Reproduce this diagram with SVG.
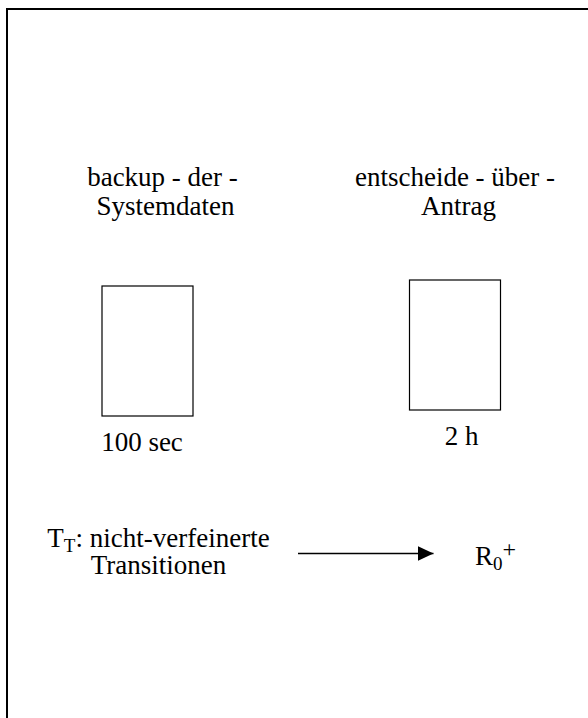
<svg xmlns="http://www.w3.org/2000/svg" width="588" height="718" viewBox="0 0 588 718">
  <defs>
    <style>
      .lbl { font-family: "Liberation Serif", "Times New Roman", serif; font-size: 27px; fill: #000; }
      .sub { font-size: 19px; }
      .sup { font-size: 24px; }
      .frame { fill: none; stroke: #000; stroke-width: 2; }
      .box { fill: #fff; stroke: #000; stroke-width: 1.2; }
      .edge { fill: none; stroke: #000; stroke-width: 1.5; }
    </style>
    <marker id="arrow" markerUnits="userSpaceOnUse" markerWidth="16" markerHeight="15" refX="16" refY="7.5" orient="auto">
      <path d="M0,0 L16,7.5 L0,15 Z" fill="#000"/>
    </marker>
  </defs>

  <rect width="588" height="718" fill="#fff"/>

  <!-- page frame: top and left edges -->
  <path class="frame" d="M7,718 V9 H588"/>

  <g id="backup-der-systemdaten">
    <text class="lbl" x="162.5" y="186" text-anchor="middle">backup - der -</text>
    <text class="lbl" x="165.5" y="215" text-anchor="middle">Systemdaten</text>
    <rect class="box" x="102" y="286" width="91" height="130"/>
    <text class="lbl" x="142" y="451" text-anchor="middle">100 sec</text>
  </g>

  <g id="entscheide-ueber-antrag">
    <text class="lbl" x="455" y="186" text-anchor="middle">entscheide - über -</text>
    <text class="lbl" x="458.5" y="215" text-anchor="middle">Antrag</text>
    <rect class="box" x="409.5" y="280" width="91" height="130"/>
    <text class="lbl" x="461.5" y="445" text-anchor="middle">2 h</text>
  </g>

  <g id="transitionen">
    <text class="lbl" x="158.5" y="547" text-anchor="middle">T<tspan class="sub" dy="5">T</tspan><tspan dy="-5">: nicht-verfeinerte</tspan></text>
    <text class="lbl" x="158.5" y="574" text-anchor="middle">Transitionen</text>
  </g>

  <g id="r0plus">
    <text class="lbl" x="475" y="565">R<tspan class="sub" dy="5">0</tspan><tspan class="sup" dy="-13">+</tspan></text>
  </g>

  <g id="connectors">
    <line class="edge" x1="298" y1="553.5" x2="433.5" y2="553.5" marker-end="url(#arrow)"/>
  </g>
</svg>
